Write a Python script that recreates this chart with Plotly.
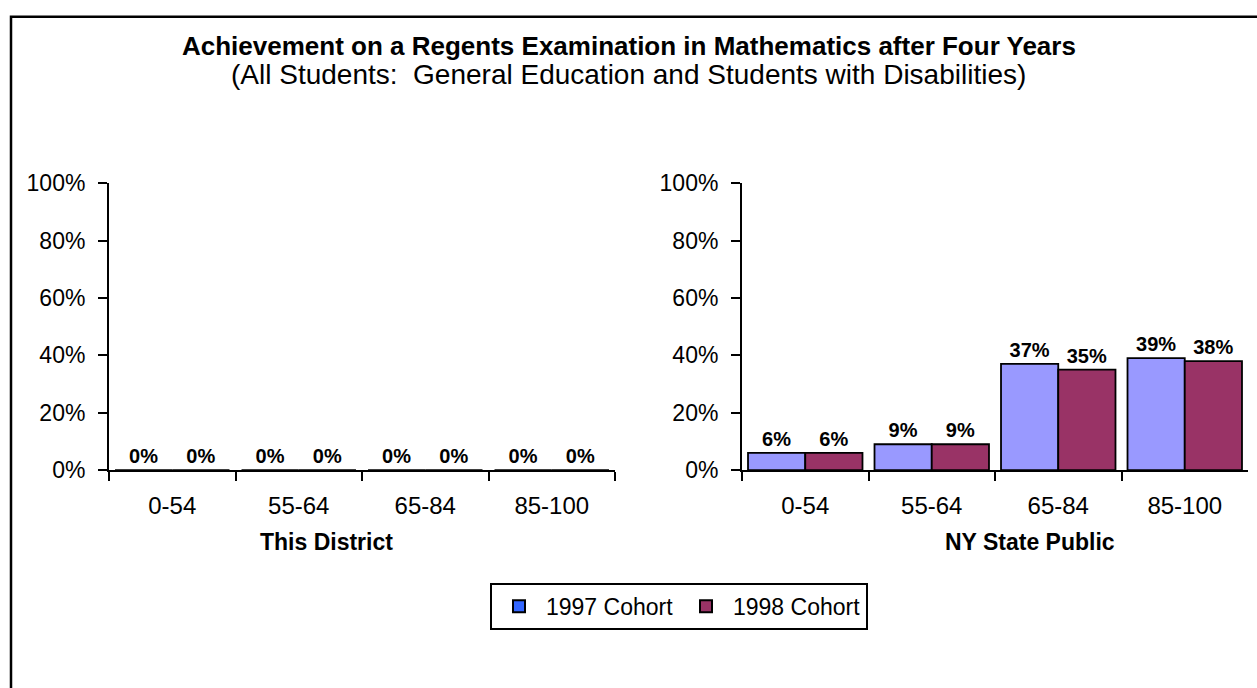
import plotly.graph_objects as go

categories = ["0-54", "55-64", "65-84", "85-100"]
district_1997 = [0, 0, 0, 0]
district_1998 = [0, 0, 0, 0]
state_1997 = [6, 9, 37, 39]
state_1998 = [6, 9, 35, 38]
series_names = ["1997 Cohort", "1998 Cohort"]
panel_titles = ["This District", "NY State Public"]
y_ticks = [0, 20, 40, 60, 80, 100]
y_tick_labels = ["0%", "20%", "40%", "60%", "80%", "100%"]

W, H = 1257, 688
BAR_COLORS = ["#9999FF", "#993366"]
LEGEND_COLORS = ["#3366FF", "#993366"]
FONT = "Liberation Sans, Arial, sans-serif"

def px_x(p):
    return p / W

def px_y(p):
    return 1 - p / H

fig = go.Figure()

panels = [(district_1997, district_1998, "x", "y"), (state_1997, state_1998, "x2", "y2")]
for vals97, vals98, xa, ya in panels:
    for name, vals, col in zip(series_names, [vals97, vals98], BAR_COLORS):
        fig.add_trace(go.Bar(
            x=categories, y=vals, name=name, xaxis=xa, yaxis=ya,
            text=[f"{v}%" for v in vals],
            marker=dict(color=col, line=dict(color="black", width=1.8)),
            texttemplate="<b>%{text}</b>", textposition="outside",
            textfont=dict(family=FONT, size=20, color="black"),
            cliponaxis=False, showlegend=False, hoverinfo="x+y+name",
        ))

# legend entries (legend swatch colours differ from bar fill in the original)
for name, col in zip(series_names, LEGEND_COLORS):
    fig.add_trace(go.Scatter(
        x=[None], y=[None], mode="markers", name=name,
        marker=dict(symbol="square", size=12, color=col, line=dict(color="black", width=1.5)),
        xaxis="x2", yaxis="y2",
    ))

axis_common = dict(
    showline=True, linecolor="black", linewidth=2, ticks="outside",
    tickcolor="black", tickwidth=2, ticklen=9, showgrid=False, zeroline=False,
)
x_font = dict(family=FONT, size=24, color="black")
y_font = dict(family=FONT, size=23, color="black")

y_dom = [px_y(475), px_y(177)]
fig.update_layout(
    width=W, height=H,
    margin=dict(l=0, r=0, t=0, b=0),
    paper_bgcolor="white", plot_bgcolor="white",
    barmode="group", bargap=0.095, bargroupgap=0,
    font=dict(family=FONT, color="black"),
    xaxis=dict(domain=[px_x(109), px_x(615)], type="category", tickson="boundaries", anchor="y",
               tickfont=x_font, ticklabelstandoff=13, **axis_common),
    yaxis=dict(domain=y_dom, range=[0, 100], tickvals=y_ticks, ticktext=y_tick_labels, anchor="x",
               tickfont=y_font, ticklabelstandoff=8, **axis_common),
    xaxis2=dict(domain=[px_x(742), px_x(1248)], type="category", tickson="boundaries", anchor="y2",
                tickfont=x_font, ticklabelstandoff=13, **axis_common),
    yaxis2=dict(domain=y_dom, range=[0, 100], tickvals=y_ticks, ticktext=y_tick_labels, anchor="x2",
                tickfont=y_font, ticklabelstandoff=8, **axis_common),
    showlegend=True,
    legend=dict(
        orientation="h", x=px_x(490), y=px_y(641), xanchor="left", yanchor="bottom",
        bordercolor="black", borderwidth=2, bgcolor="white",
        font=dict(family=FONT, size=23, color="black"),
        itemsizing="constant", itemwidth=44, entrywidth=128,
    ),
)

# outer frame
fig.add_shape(type="rect", xref="paper", yref="paper",
              x0=px_x(11), x1=px_x(1300), y0=px_y(800), y1=px_y(4),
              line=dict(color="black", width=2.5), layer="below")

fig.add_annotation(text="<b>Achievement on a Regents Examination in Mathematics after Four Years</b>",
                   x=0.5, y=px_y(34), xref="paper", yref="paper", showarrow=False,
                   xanchor="center", yanchor="middle",
                   font=dict(family=FONT, size=26, color="black"))
fig.add_annotation(text="(All Students:  General Education and Students with Disabilities)",
                   x=0.5, y=px_y(64), xref="paper", yref="paper", showarrow=False,
                   xanchor="center", yanchor="middle",
                   font=dict(family=FONT, size=28, color="black"))

for title, cx in zip(panel_titles, [326, 1030]):
    fig.add_annotation(text=f"<b>{title}</b>", x=px_x(cx), y=px_y(550),
                       xref="paper", yref="paper", showarrow=False,
                       xanchor="center", yanchor="middle",
                       font=dict(family=FONT, size=23, color="black"))

fig.write_html("out.html", config={"displayModeBar": False},
               post_script="document.body.style.margin='0px';")
